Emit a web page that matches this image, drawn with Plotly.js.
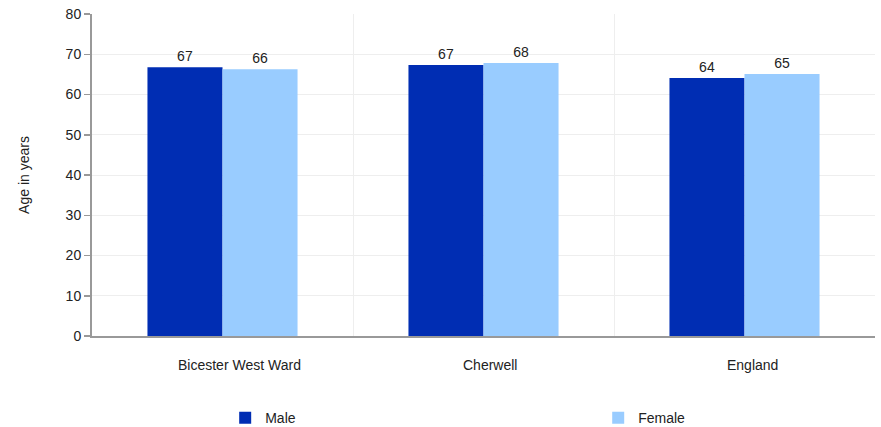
<!DOCTYPE html>
<html>
<head>
<meta charset="utf-8">
<script src="https://cdn.plot.ly/plotly-3.0.1.min.js"></script>
<style>html,body{margin:0;padding:0;background:#fff;}#chart{width:881px;height:427px;}</style>
</head>
<body>
<div id="chart"></div>
<script>
const categories = ["Bicester West Ward", "Cherwell", "England"];
const maleValues = [66.8, 67.3, 64.1];
const femaleValues = [66.3, 67.8, 65.1];
const seriesNames = ["Male", "Female"];
const yTickVals = [0, 10, 20, 30, 40, 50, 60, 70, 80];

const font = {family: "Liberation Sans, Arial, sans-serif", size: 14, color: "#222"};

const traces = [
  {type: "bar", name: seriesNames[0], x: categories, y: maleValues, legend: "legend",
   marker: {color: "#002DB3"}, texttemplate: "%{y:.0f}", textposition: "outside",
   textfont: {size: 14, color: "#222"}, cliponaxis: false, hoverinfo: "none"},
  {type: "bar", name: seriesNames[1], x: categories, y: femaleValues, legend: "legend2",
   marker: {color: "#99CCFF"}, texttemplate: "%{y:.0f}", textposition: "outside",
   textfont: {size: 14, color: "#222"}, cliponaxis: false, hoverinfo: "none"}
];

const legendBase = {orientation: "h", xref: "container", yref: "container",
  xanchor: "left", yanchor: "middle", y: 0.021, font: {size: 14, color: "#222"},
  bgcolor: "rgba(0,0,0,0)"};

// category label annotations (label horizontal nudges are styling)
const labelNudge = [17, 6, 8];
const annotations = categories.map((c, i) => ({
  text: c, x: c, xref: "x", y: 0, yref: "paper", yanchor: "top", xanchor: "center",
  yshift: -19, xshift: labelNudge[i], showarrow: false, font: {size: 14, color: "#222"}
}));

const layout = {
  width: 881, height: 427,
  font: font,
  paper_bgcolor: "#fff", plot_bgcolor: "#fff",
  margin: {l: 92, r: 6, t: 14, b: 91},
  barmode: "group", bargap: 0.425, bargroupgap: 0,
  showlegend: true,
  legend: Object.assign({}, legendBase, {x: 0.2556}),
  legend2: Object.assign({}, legendBase, {x: 0.679}),
  annotations: annotations,
  xaxis: {type: "category", range: [-0.5, 2.5], tickson: "boundaries", ticks: "",
          showticklabels: false,
          showgrid: true, gridcolor: "#eeeeee", gridwidth: 1,
          showline: true, linecolor: "#999", linewidth: 2, fixedrange: true},
  yaxis: {range: [0, 80], tickvals: yTickVals, ticks: "outside", ticklen: 6,
          tickcolor: "#999", tickwidth: 1.5,
          showgrid: true, gridcolor: "#eeeeee", gridwidth: 1,
          showline: true, linecolor: "#999", linewidth: 2, zeroline: false,
          tickfont: {size: 14, color: "#222"},
          title: {text: "Age in years", font: {size: 14, color: "#222"}, standoff: 33},
          automargin: false, fixedrange: true}
};

Plotly.newPlot("chart", traces, layout, {displayModeBar: false, staticPlot: true});
</script>
</body>
</html>
